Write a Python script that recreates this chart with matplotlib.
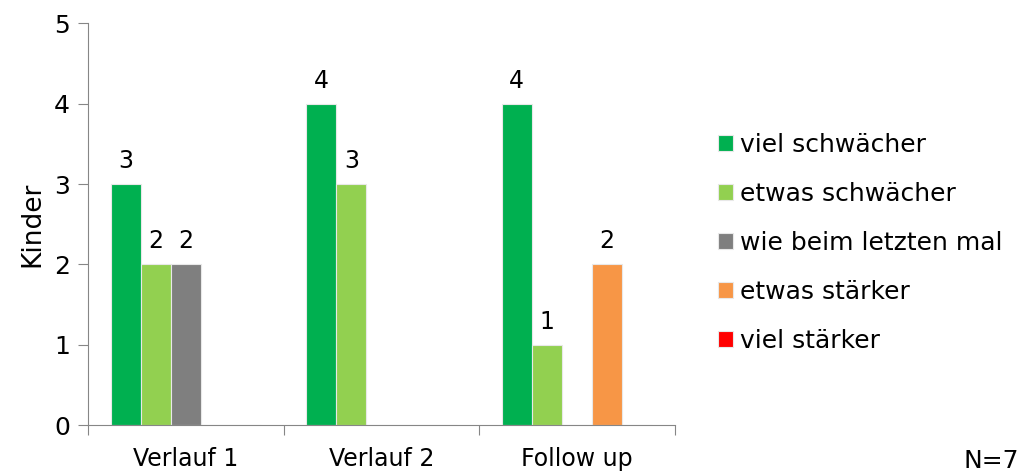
import matplotlib
matplotlib.use("Agg")
import matplotlib.pyplot as plt
import numpy as np

categories = ["Verlauf 1", "Verlauf 2", "Follow up"]
series = ["viel schwächer", "etwas schwächer", "wie beim letzten mal", "etwas stärker", "viel stärker"]
viel_schwaecher = [3, 4, 4]
etwas_schwaecher = [2, 3, 1]
wie_beim_letzten_mal = [2, 0, 0]
etwas_staerker = [0, 0, 2]
viel_staerker = [0, 0, 0]
values = [viel_schwaecher, etwas_schwaecher, wie_beim_letzten_mal, etwas_staerker, viel_staerker]
colors = ["#00B050", "#92D050", "#7F7F7F", "#F79646", "#FF0000"]

plt.rcParams["font.family"] = "DejaVu Sans"

fig = plt.figure(figsize=(10.24, 4.74), dpi=100)
ax = fig.add_axes([0.086, 0.103, 0.573, 0.848])

x = np.arange(len(categories))
w = 0.154
for i, (name, vals, c) in enumerate(zip(series, values, colors)):
    pos = x + (i - 2) * w
    bars = ax.bar(pos, vals, width=w, color=c, edgecolor="#e8e8e8", linewidth=0.8, label=name, zorder=1)
    for b, v in zip(bars, vals):
        if v > 0:
            ax.annotate(str(v), (b.get_x() + b.get_width() / 2, v), xytext=(0, 8),
                        textcoords="offset points", ha="center", va="bottom", fontsize=17)

ax.set_xlim(-0.5, 2.5)
ax.set_ylim(0, 5)
ax.set_yticks(range(6))
ax.set_xticks([-0.5, 0.5, 1.5, 2.5])
ax.set_xticklabels([])
ax.set_xticks(x, minor=True)
ax.set_xticklabels(categories, minor=True)
ax.tick_params(axis="x", which="minor", length=0, pad=16, labelsize=17)
ax.tick_params(axis="x", which="major", length=7, color="#868686", direction="out")
ax.tick_params(axis="y", length=7, color="#868686", labelsize=18, pad=6)
for s in ["top", "right"]:
    ax.spines[s].set_visible(False)
for s in ["left", "bottom"]:
    ax.spines[s].set_color("#868686")
ax.set_ylabel("Kinder", fontsize=19, labelpad=6)

leg = fig.legend(loc="center left", bbox_to_anchor=(0.701, 0.487), frameon=False, fontsize=18,
                 borderpad=0, borderaxespad=0,
                 handlelength=0.6, handleheight=0.6, handletextpad=0.3, labelspacing=1.0)
for h in leg.legend_handles:
    h.set_edgecolor("#e8e8e8")

fig.text(0.995, 0.028, "N=7", ha="right", va="center", fontsize=18)

fig.savefig("out.png", dpi=100)
